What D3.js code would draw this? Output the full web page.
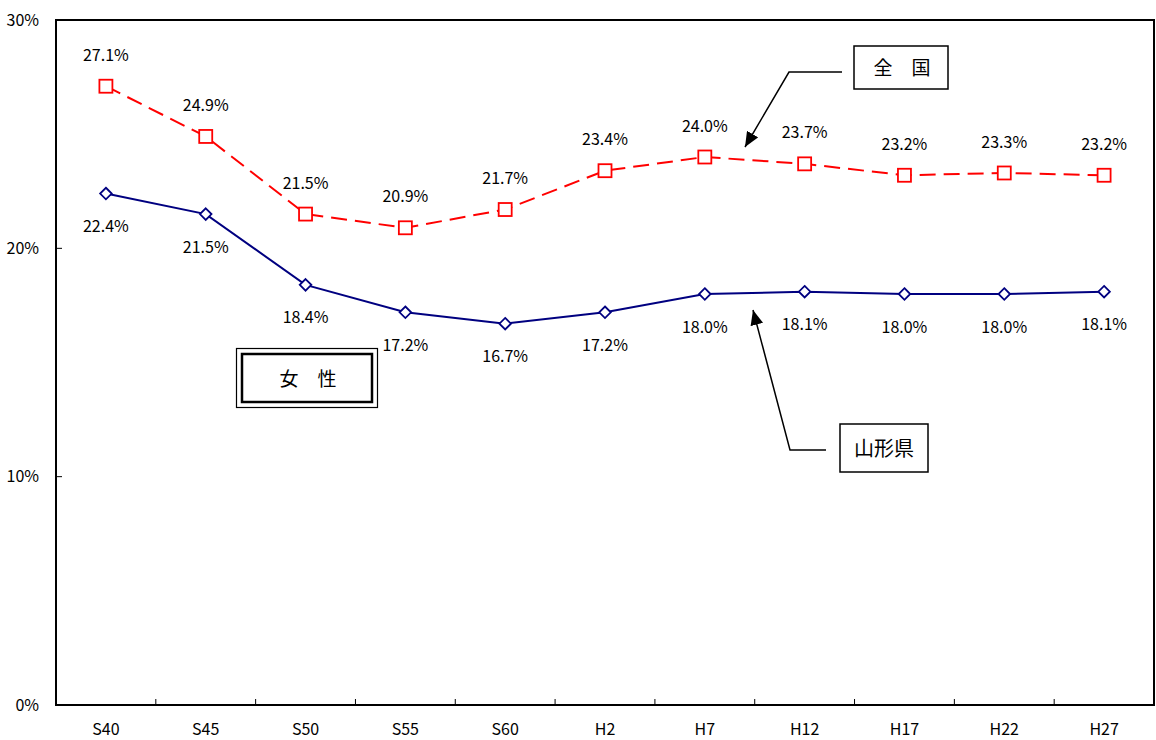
<!DOCTYPE html>
<html>
<head>
<meta charset="utf-8">
<script src="https://cdn.jsdelivr.net/npm/d3@7"></script>
<style>
  body { margin: 0; background: #fff; }
  svg text { font-family: "Noto Sans CJK JP", "Liberation Sans", sans-serif; fill: #000; }
</style>
</head>
<body>
<div id="chart"></div>
<script>
var categories = ["S40", "S45", "S50", "S55", "S60", "H2", "H7", "H12", "H17", "H22", "H27"];
var zenkoku = [27.1, 24.9, 21.5, 20.9, 21.7, 23.4, 24.0, 23.7, 23.2, 23.3, 23.2];
var yamagata = [22.4, 21.5, 18.4, 17.2, 16.7, 17.2, 18.0, 18.1, 18.0, 18.0, 18.1];
var yTicks = [0, 10, 20, 30];

var width = 1156, height = 740;
var plot = { left: 56, right: 1154, top: 20, bottom: 705 };

var svg = d3.select("#chart").append("svg")
  .attr("width", width)
  .attr("height", height);

var x = d3.scaleBand()
  .domain(categories)
  .range([plot.left, plot.right]);

var y = d3.scaleLinear()
  .domain([0, 30])
  .range([plot.bottom, plot.top]);

function cx(d, i) { return x(categories[i]) + x.bandwidth() / 2; }

// arrow head
svg.append("defs").append("marker")
  .attr("id", "arrow")
  .attr("viewBox", "0 0 14 12")
  .attr("refX", 14)
  .attr("refY", 6)
  .attr("markerWidth", 15)
  .attr("markerHeight", 13)
  .attr("markerUnits", "userSpaceOnUse")
  .attr("orient", "auto")
  .append("path")
  .attr("d", "M0,0 L14,6 L0,12 z")
  .attr("fill", "#000");

// frame
svg.append("rect")
  .attr("x", plot.left)
  .attr("y", plot.top)
  .attr("width", plot.right - plot.left)
  .attr("height", plot.bottom - plot.top)
  .attr("fill", "none")
  .attr("stroke", "#000")
  .attr("stroke-width", 2);

// y ticks (inside) + labels
svg.selectAll(".ytick")
  .data(yTicks)
  .enter().append("line")
  .attr("x1", plot.left)
  .attr("x2", plot.left + 6)
  .attr("y1", function (d) { return y(d); })
  .attr("y2", function (d) { return y(d); })
  .attr("stroke", "#000")
  .attr("stroke-width", 1);

svg.selectAll(".ylabel")
  .data(yTicks)
  .enter().append("text")
  .attr("x", 39)
  .attr("y", function (d) { return y(d); })
  .attr("dy", "0.35em")
  .attr("text-anchor", "end")
  .attr("font-size", 16)
  .text(function (d) { return d + "%"; });

// x ticks between categories
var xBounds = categories.slice(1).map(function (c) { return x(c); });
svg.selectAll(".xtick")
  .data(xBounds)
  .enter().append("line")
  .attr("x1", function (d) { return d; })
  .attr("x2", function (d) { return d; })
  .attr("y1", plot.bottom)
  .attr("y2", plot.bottom - 6)
  .attr("stroke", "#000")
  .attr("stroke-width", 1);

svg.selectAll(".xlabel")
  .data(categories)
  .enter().append("text")
  .attr("x", function (d) { return x(d) + x.bandwidth() / 2; })
  .attr("y", 729)
  .attr("dy", "0.35em")
  .attr("text-anchor", "middle")
  .attr("font-size", 16)
  .text(function (d) { return d; });

var line = d3.line()
  .x(cx)
  .y(function (d) { return y(d); });

// 全国
svg.append("path")
  .datum(zenkoku)
  .attr("d", line)
  .attr("fill", "none")
  .attr("stroke", "#ff0000")
  .attr("stroke-width", 2)
  .attr("stroke-dasharray", "16,8");

svg.selectAll(".sq")
  .data(zenkoku)
  .enter().append("rect")
  .attr("x", function (d, i) { return cx(d, i) - 6.5; })
  .attr("y", function (d) { return y(d) - 6.5; })
  .attr("width", 13)
  .attr("height", 13)
  .attr("fill", "#fff")
  .attr("stroke", "#ff0000")
  .attr("stroke-width", 1.8);

svg.selectAll(".zlabel")
  .data(zenkoku)
  .enter().append("text")
  .attr("x", cx)
  .attr("y", function (d) { return y(d) - 31; })
  .attr("dy", "0.35em")
  .attr("text-anchor", "middle")
  .attr("font-size", 16)
  .text(function (d) { return d.toFixed(1) + "%"; });

// 山形県
svg.append("path")
  .datum(yamagata)
  .attr("d", line)
  .attr("fill", "none")
  .attr("stroke", "#000080")
  .attr("stroke-width", 2);

svg.selectAll(".dm")
  .data(yamagata)
  .enter().append("path")
  .attr("d", d3.symbol().type(d3.symbolDiamond2).size(85))
  .attr("transform", function (d, i) { return "translate(" + cx(d, i) + "," + y(d) + ")"; })
  .attr("fill", "#fff")
  .attr("stroke", "#000080")
  .attr("stroke-width", 1.8);

svg.selectAll(".ylab")
  .data(yamagata)
  .enter().append("text")
  .attr("x", cx)
  .attr("y", function (d) { return y(d) + 33; })
  .attr("dy", "0.35em")
  .attr("text-anchor", "middle")
  .attr("font-size", 16)
  .text(function (d) { return d.toFixed(1) + "%"; });

// 全国 callout
svg.append("rect")
  .attr("x", 854).attr("y", 46).attr("width", 94).attr("height", 43)
  .attr("fill", "#fff").attr("stroke", "#000").attr("stroke-width", 1.5);
svg.append("text")
  .attr("x", 902).attr("y", 68).attr("dy", "0.35em")
  .attr("text-anchor", "middle").attr("font-size", 19)
  .text("全\u3000国");
svg.append("path")
  .attr("d", "M842,72 L789,72 L745,147")
  .attr("fill", "none").attr("stroke", "#000").attr("stroke-width", 1.5)
  .attr("marker-end", "url(#arrow)");

// 山形県 callout
svg.append("rect")
  .attr("x", 840).attr("y", 424).attr("width", 88).attr("height", 48)
  .attr("fill", "#fff").attr("stroke", "#000").attr("stroke-width", 1.5);
svg.append("text")
  .attr("x", 884).attr("y", 449).attr("dy", "0.35em")
  .attr("text-anchor", "middle").attr("font-size", 20)
  .text("山形県");
svg.append("path")
  .attr("d", "M826,450 L790,450 L753,310")
  .attr("fill", "none").attr("stroke", "#000").attr("stroke-width", 1.5)
  .attr("marker-end", "url(#arrow)");

// 女性 box (double border)
svg.append("rect")
  .attr("x", 236.5).attr("y", 348.5).attr("width", 141).attr("height", 59)
  .attr("fill", "#fff").attr("stroke", "#000").attr("stroke-width", 1.2);
svg.append("rect")
  .attr("x", 242).attr("y", 354).attr("width", 130).attr("height", 48)
  .attr("fill", "none").attr("stroke", "#000").attr("stroke-width", 2.5);
svg.append("text")
  .attr("x", 308).attr("y", 379).attr("dy", "0.35em")
  .attr("text-anchor", "middle").attr("font-size", 19)
  .text("女\u3000性");
</script>
</body>
</html>
